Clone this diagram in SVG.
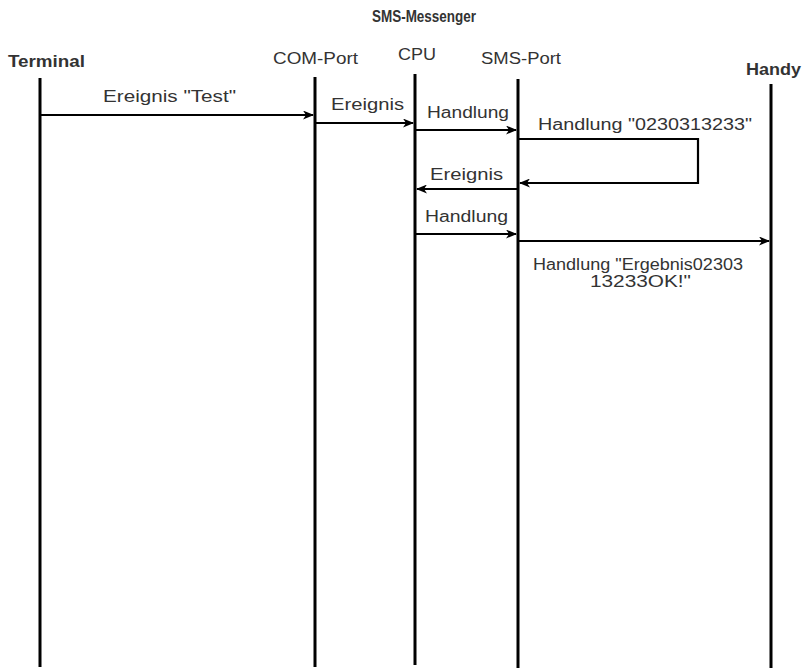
<svg xmlns="http://www.w3.org/2000/svg" width="806" height="669" viewBox="0 0 806 669">
<style>
.t{font-family:"Liberation Sans",Arial,sans-serif;font-size:16px;fill:#333}
.b{font-family:"Liberation Sans",Arial,sans-serif;font-size:16px;font-weight:bold;fill:#333}
.life{stroke:#000;stroke-width:3;fill:none}
.msg{stroke:#000;stroke-width:2.2;fill:none}
</style>
<defs>
<marker id="ah" markerWidth="11" markerHeight="9" refX="10" refY="4.5" orient="auto" markerUnits="userSpaceOnUse">
<path d="M0,0 L11,4.5 L0,9 L3,4.5 z" fill="#000"/>
</marker>
</defs>
<rect width="806" height="669" fill="#fff"/>
<text class="b" x="424" y="22" text-anchor="middle" font-size="15" textLength="104" lengthAdjust="spacingAndGlyphs">SMS-Messenger</text>
<g id="terminal">
<text class="b" x="8" y="67" textLength="77" lengthAdjust="spacingAndGlyphs">Terminal</text>
<line class="life" x1="40" y1="78" x2="40" y2="667"/>
</g>
<g id="com-port">
<text class="t" x="273" y="64" textLength="85" lengthAdjust="spacingAndGlyphs">COM-Port</text>
<line class="life" x1="315" y1="77" x2="315" y2="667"/>
</g>
<g id="cpu">
<text class="t" x="398" y="60" textLength="38" lengthAdjust="spacingAndGlyphs">CPU</text>
<line class="life" x1="415" y1="74" x2="415" y2="665"/>
</g>
<g id="sms-port">
<text class="t" x="481" y="64" textLength="80" lengthAdjust="spacingAndGlyphs">SMS-Port</text>
<line class="life" x1="518" y1="79" x2="518" y2="668"/>
</g>
<g id="handy">
<text class="b" x="746" y="75" textLength="55" lengthAdjust="spacingAndGlyphs">Handy</text>
<line class="life" x1="771" y1="84" x2="771" y2="668"/>
</g>
<g id="connectors">
<line class="msg" x1="40" y1="115" x2="313" y2="115" marker-end="url(#ah)"/>
<text class="t" x="103" y="102" textLength="133" lengthAdjust="spacingAndGlyphs">Ereignis "Test"</text>
<line class="msg" x1="315" y1="123" x2="413" y2="123" marker-end="url(#ah)"/>
<text class="t" x="331" y="110" textLength="73" lengthAdjust="spacingAndGlyphs">Ereignis</text>
<line class="msg" x1="415" y1="130" x2="516" y2="130" marker-end="url(#ah)"/>
<text class="t" x="427" y="118" textLength="82" lengthAdjust="spacingAndGlyphs">Handlung</text>
<path class="msg" d="M518,139 H698 V183 H520" marker-end="url(#ah)"/>
<text class="t" x="538" y="130" textLength="214" lengthAdjust="spacingAndGlyphs">Handlung "0230313233"</text>
<line class="msg" x1="518" y1="189" x2="417" y2="189" marker-end="url(#ah)"/>
<text class="t" x="430" y="180" textLength="73" lengthAdjust="spacingAndGlyphs">Ereignis</text>
<line class="msg" x1="415" y1="234" x2="516" y2="234" marker-end="url(#ah)"/>
<text class="t" x="425" y="222" textLength="83" lengthAdjust="spacingAndGlyphs">Handlung</text>
<line class="msg" x1="518" y1="241" x2="769" y2="241" marker-end="url(#ah)"/>
<text class="t" x="533" y="270" textLength="210" lengthAdjust="spacingAndGlyphs">Handlung "Ergebnis02303</text>
<text class="t" x="590" y="287" textLength="101" lengthAdjust="spacingAndGlyphs">13233OK!"</text>
</g>
</svg>
